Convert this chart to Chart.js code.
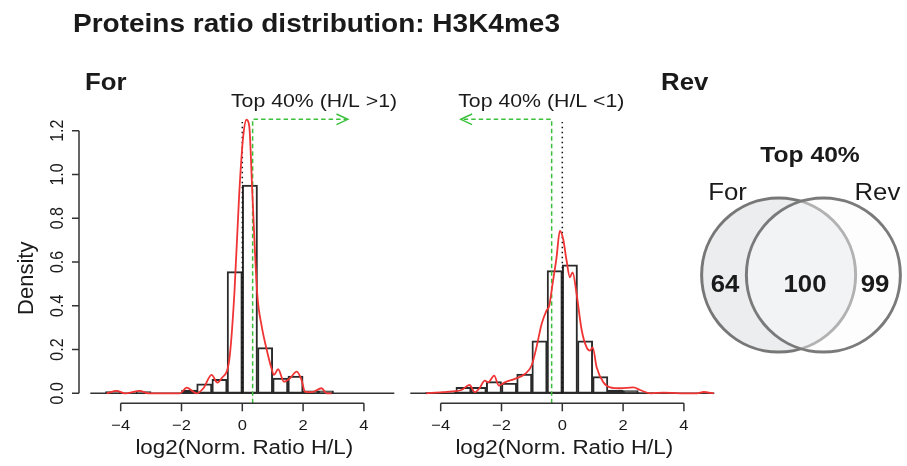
<!DOCTYPE html>
<html lang="en">
<head>
<meta charset="UTF-8">
<title>Proteins ratio distribution: H3K4me3</title>
<script src="https://cdn.jsdelivr.net/npm/chart.js@4.4.1/dist/chart.umd.min.js"></script>
<style>
    body { margin: 0; background: #fff; overflow: hidden; }
    canvas { position: absolute; top: 0; }
</style>
</head>
<body>
<canvas id="for-canvas" width="907" height="466" style="left:0"></canvas>
<canvas id="rev-canvas" width="320" height="466" style="left:400px"></canvas>
<canvas id="venn-canvas" width="216" height="290" style="left:693px; top:130px"></canvas>

<script>
// histogram bins: lower edges, width 0.5
var binStarts = [-4.5, -4.0, -3.5, -3.0, -2.5, -2.0, -1.5, -1.0, -0.5, 0.0, 0.5, 1.0, 1.5, 2.0, 2.5];
var binWidth = 0.5;
var forDensity = [0.008, 0, 0.008, 0, 0, 0.015, 0.043, 0.064, 0.556, 0.951, 0.209, 0.069, 0.079, 0.011, 0.011];
var revDensity = [0.003, 0.006, 0.027, 0.027, 0.053, 0.046, 0.088, 0.240, 0.561, 0.587, 0.240, 0.076, 0.015, 0.012, 0.003];

// kernel density curves
var forKdeX = [-4.46, -4.13, -3.86, -3.37, -3.09, -2.05, -1.83, -1.50, -1.28, -1.01, -0.82, -0.68, -0.43, -0.26, -0.10, 0.03, 0.14, 0.23, 0.33, 0.49, 0.64, 0.78, 0.96, 1.04, 1.18, 1.37, 1.57, 1.79, 1.95, 2.06, 2.28, 2.61, 2.77, 2.94];
var forKdeY = [0, 0.011, 0, 0.011, 0, 0, 0.026, 0, 0.023, 0.084, 0.049, 0.069, 0.152, 0.457, 0.915, 1.174, 1.25, 1.22, 0.915, 0.457, 0.305, 0.213, 0.114, 0.084, 0.11, 0.053, 0.069, 0.099, 0.061, 0.008, 0.005, 0.023, 0, 0];
var revKdeX = [-4.48, -3.93, -3.60, -3.32, -3.05, -2.88, -2.72, -2.55, -2.44, -2.24, -2.09, -1.89, -1.56, -1.23, -1.01, -0.85, -0.68, -0.52, -0.43, -0.32, -0.19, -0.08, 0.03, 0.14, 0.25, 0.34, 0.47, 0.64, 0.80, 0.91, 1.00, 1.13, 1.35, 1.57, 1.90, 2.34, 2.56, 2.90, 3.33, 3.88, 4.43, 4.65, 4.98];
var revKdeY = [0, 0.005, 0.009, 0.015, 0.038, 0.005, 0.024, 0.058, 0.05, 0.081, 0.035, 0.05, 0.066, 0.088, 0.127, 0.21, 0.317, 0.378, 0.40, 0.50, 0.62, 0.742, 0.704, 0.607, 0.53, 0.553, 0.454, 0.287, 0.21, 0.195, 0.21, 0.119, 0.05, 0.027, 0.023, 0.027, 0.015, 0, 0.003, 0, 0, 0.006, 0];

// top 40% cut-offs and arrows
var forCut = 0.34, forArrowTo = 3.47;
var revCut = -0.35, revArrowTo = -3.34;
var arrowLevel = 1.252;
var zeroLineTop = 1.24;
var axisLevel = -0.046;   // where the offset x axis sits

var xTicks = [-4, -2, 0, 2, 4];
var yTicks = [0, 0.2, 0.4, 0.6, 0.8, 1.0, 1.2];

var vennTitle = 'Top 40%';
var vennSets = ['For', 'Rev'];
var vennCounts = [64, 100, 99];   // For only, both, Rev only

var SX = 1.12;  // the R fonts are a little wider than Arial

function drawText(ctx, s, x, y, font, align, sx, rotate) {
    ctx.save();
    ctx.translate(x, y);
    ctx.scale(sx, 1);
    if (rotate) ctx.rotate(-Math.PI / 2);
    ctx.font = font;
    ctx.textAlign = align;
    ctx.textBaseline = 'alphabetic';
    ctx.fillStyle = '#1a1a1a';
    ctx.fillText(s, 0, 0);
    ctx.restore();
}

function minus(v) {
    return String(v).replace('-', '\u2212');
}

// R style axes, drawn from the chart scales
var rAxes = {
    id: 'rAxes',
    beforeDatasetsDraw: function(chart) {
        var ctx = chart.ctx, a = chart.chartArea;
        var y0 = chart.scales.y.getPixelForValue(0);
        ctx.save();
        ctx.strokeStyle = '#333';
        ctx.lineWidth = 1.5;
        ctx.beginPath();
        ctx.moveTo(a.left, y0);
        ctx.lineTo(a.right, y0);
        ctx.stroke();
        ctx.restore();
    },
    afterDraw: function(chart, args, opts) {
        var ctx = chart.ctx, a = chart.chartArea;
        var xs = chart.scales.x, ys = chart.scales.y;
        var axisY = ys.getPixelForValue(axisLevel);

        ctx.save();
        ctx.strokeStyle = '#333';
        ctx.lineWidth = 1.5;
        ctx.beginPath();
        ctx.moveTo(xs.getPixelForValue(xTicks[0]), axisY);
        ctx.lineTo(xs.getPixelForValue(xTicks[xTicks.length - 1]), axisY);
        xTicks.forEach(function(v) {
            var px = xs.getPixelForValue(v);
            ctx.moveTo(px, axisY);
            ctx.lineTo(px, axisY + 8);
        });
        ctx.stroke();
        xTicks.forEach(function(v) {
            drawText(ctx, minus(v), xs.getPixelForValue(v), axisY + 26.7, '15px Arial', 'center', 1.1);
        });
        drawText(ctx, 'log2(Norm. Ratio H/L)', xs.getPixelForValue(0) + 2, axisY + 50.7, '20px Arial', 'center', SX);

        if (opts.yAxis) {
            var axisX = a.left - 11.3;
            ctx.beginPath();
            ctx.moveTo(axisX, ys.getPixelForValue(yTicks[0]));
            ctx.lineTo(axisX, ys.getPixelForValue(yTicks[yTicks.length - 1]));
            yTicks.forEach(function(v) {
                var py = ys.getPixelForValue(v);
                ctx.moveTo(axisX, py);
                ctx.lineTo(axisX - 7, py);
            });
            ctx.stroke();
            yTicks.forEach(function(v) {
                drawText(ctx, v.toFixed(1), axisX - 15.7, ys.getPixelForValue(v), '16px Arial', 'center', 1.15, true);
            });
            drawText(ctx, 'Density', axisX - 46, ys.getPixelForValue(0) - 115, '22px Arial', 'center', 1, true);
        }

        if (opts.mainTitle) {
            drawText(ctx, opts.mainTitle, 73, 31.7, 'bold 25px Arial', 'left', SX);
        }
        if (opts.align === 'left') {
            drawText(ctx, opts.panel, a.left - 5.3, a.top - 40.7, 'bold 23px Arial', 'left', SX);
        } else {
            drawText(ctx, opts.panel, a.right - 6, a.top - 40.7, 'bold 23px Arial', 'right', SX);
        }
        drawText(ctx, opts.cutLabel, xs.getPixelForValue(opts.cutLabelAt), a.top - 24, '19px Arial', 'center', SX);
        ctx.restore();
    }
};

// open arrow head at the end of the dashed green line
var arrowHeads = {
    id: 'arrowHeads',
    afterDatasetsDraw: function(chart) {
        var ctx = chart.ctx;
        chart.data.datasets.forEach(function(ds, i) {
            if (!ds.arrowHead) return;
            var pts = chart.getDatasetMeta(i).data;
            var p1 = pts[pts.length - 2], p2 = pts[pts.length - 1];
            var ang = Math.atan2(p2.y - p1.y, p2.x - p1.x);
            var len = 12.5, half = 0.44;
            ctx.save();
            ctx.strokeStyle = ds.borderColor;
            ctx.lineWidth = 1.5;
            ctx.beginPath();
            ctx.moveTo(p2.x - len * Math.cos(ang - half), p2.y - len * Math.sin(ang - half));
            ctx.lineTo(p2.x, p2.y);
            ctx.lineTo(p2.x - len * Math.cos(ang + half), p2.y - len * Math.sin(ang + half));
            ctx.stroke();
            ctx.restore();
        });
    }
};

function histChart(canvasId, density, kdeX, kdeY, cut, arrowTo, padding, opts) {
    var bars = binStarts.map(function(b, i) {
        return { x: b + binWidth / 2, y: density[i] };
    });
    var kde = kdeX.map(function(x, i) { return { x: x, y: kdeY[i] }; });
    var green = [
        { x: cut, y: axisLevel },
        { x: cut, y: arrowLevel },
        { x: arrowTo, y: arrowLevel }
    ];
    var zeroLine = [{ x: 0, y: 0 }, { x: 0, y: zeroLineTop }];

    return new Chart(document.getElementById(canvasId), {
        type: 'bar',
        data: {
            datasets: [{
                type: 'line',
                data: kde,
                borderColor: '#f03434',
                borderWidth: 1.8,
                pointRadius: 0,
                cubicInterpolationMode: 'monotone',
                clip: false,
                order: 0
            }, {
                type: 'line',
                data: green,
                borderColor: '#3cc03c',
                borderWidth: 1.5,
                borderDash: [4.5, 3],
                pointRadius: 0,
                clip: false,
                arrowHead: true,
                order: 1
            }, {
                type: 'line',
                data: zeroLine,
                borderColor: '#111',
                borderWidth: 1.5,
                borderDash: [1.5, 3.5],
                pointRadius: 0,
                clip: false,
                order: 2
            }, {
                type: 'bar',
                data: bars,
                backgroundColor: 'rgba(255,255,255,0)',
                borderColor: '#2a2a2a',
                borderWidth: 1.3,
                borderSkipped: false,
                barPercentage: 1,
                categoryPercentage: 1,
                clip: false,
                order: 3
            }]
        },
        options: {
            responsive: false,
            animation: false,
            events: [],
            layout: { padding: padding, autoPadding: false },
            scales: {
                x: { type: 'linear', min: -5, max: 5, offset: false, display: false },
                y: { type: 'linear', min: 0, max: 1.2, display: false }
            },
            plugins: {
                legend: { display: false },
                tooltip: { enabled: false },
                rAxes: opts
            }
        },
        plugins: [rAxes, arrowHeads]
    });
}

histChart('for-canvas', forDensity, forKdeX, forKdeY, forCut, forArrowTo,
    { left: 90.3, right: 512.7, top: 130.7, bottom: 72.7 },
    { yAxis: true, panel: 'For', align: 'left', mainTitle: 'Proteins ratio distribution: H3K4me3',
      cutLabel: 'Top 40% (H/L >1)', cutLabelAt: 2.36 });

histChart('rev-canvas', revDensity, revKdeX, revKdeY, revCut, revArrowTo,
    { left: 10.3, right: 5.7, top: 130.7, bottom: 72.7 },
    { yAxis: false, panel: 'Rev', align: 'right',
      cutLabel: 'Top 40% (H/L <1)', cutLabelAt: -0.69 });

// Venn diagram of the two top 40% sets
var vennText = {
    id: 'vennText',
    afterDatasetsDraw: function(chart) {
        var ctx = chart.ctx, xs = chart.scales.x, ys = chart.scales.y;
        drawText(ctx, vennTitle, xs.getPixelForValue(0.117), ys.getPixelForValue(1.465), 'bold 22px Arial', 'center', SX);
        drawText(ctx, vennSets[0], xs.getPixelForValue(-0.953), ys.getPixelForValue(0.972), '23px Arial', 'center', SX);
        drawText(ctx, vennSets[1], xs.getPixelForValue(0.99), ys.getPixelForValue(0.972), '23px Arial', 'center', SX);
        var countAt = [-0.985, 0.052, 0.959];
        vennCounts.forEach(function(c, i) {
            drawText(ctx, String(c), xs.getPixelForValue(countAt[i]), ys.getPixelForValue(-0.218), 'bold 23px Arial', 'center', SX);
        });
    }
};

new Chart(document.getElementById('venn-canvas'), {
    type: 'scatter',
    data: {
        datasets: [{
            data: [{ x: -0.29, y: 0 }, { x: 0.29, y: 0 }],
            pointRadius: 77,
            pointBorderWidth: 3,
            pointBackgroundColor: ['#ecedee', 'rgba(250,250,253,0.45)'],
            pointBorderColor: ['#777777', '#7a7a7a'],
            clip: false
        }]
    },
    options: {
        responsive: false,
        animation: false,
        events: [],
        layout: { padding: 0, autoPadding: false },
        scales: {
            x: { type: 'linear', min: -1.4, max: 1.4, display: false },
            y: { type: 'linear', min: -1.88, max: 1.88, display: false }
        },
        plugins: {
            legend: { display: false },
            tooltip: { enabled: false }
        }
    },
    plugins: [vennText]
});
</script>
</body>
</html>
